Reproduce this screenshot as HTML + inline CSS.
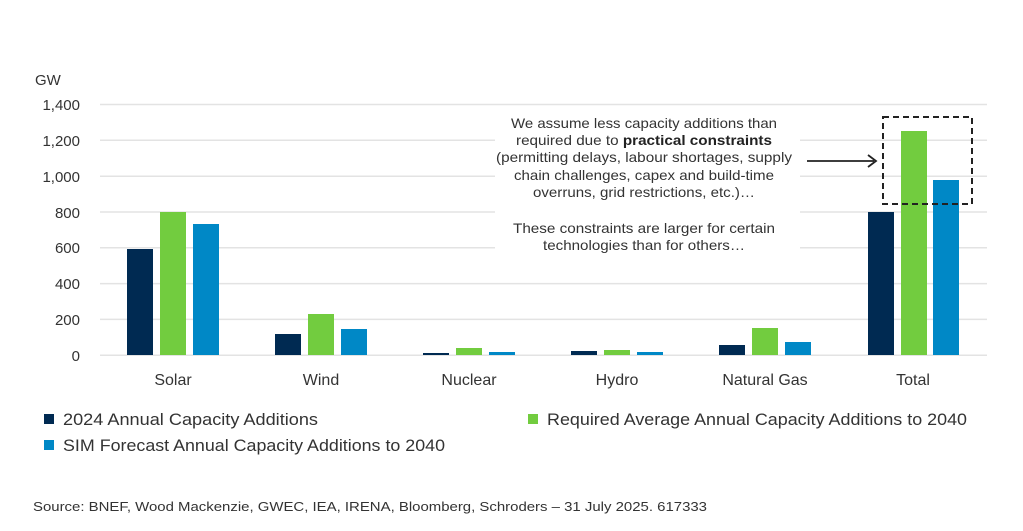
<!DOCTYPE html>
<html><head><style>
body{margin:0;width:1023px;height:531px;background:#fff;font-family:"Liberation Sans",sans-serif;color:#333;position:relative;overflow:hidden}
</style></head><body>
<svg width="1023" height="531" style="position:absolute;left:0;top:0" font-family="Liberation Sans, sans-serif">
<g stroke="#e3e3e3" stroke-width="1.5">
<line x1="100" x2="987" y1="104.5" y2="104.5"/><line x1="100" x2="987" y1="140.3" y2="140.3"/><line x1="100" x2="987" y1="176.2" y2="176.2"/><line x1="100" x2="987" y1="212" y2="212"/><line x1="100" x2="987" y1="247.8" y2="247.8"/><line x1="100" x2="987" y1="283.6" y2="283.6"/><line x1="100" x2="987" y1="319.4" y2="319.4"/><line x1="100" x2="987" y1="355.3" y2="355.3"/>
</g>
<g font-size="15" fill="#333" text-anchor="end">
<text x="80" y="110">1,400</text><text x="80" y="146">1,200</text><text x="80" y="182">1,000</text><text x="80" y="218">800</text><text x="80" y="253">600</text><text x="80" y="289">400</text><text x="80" y="325">200</text><text x="80" y="361">0</text>
</g>
<text x="35" y="85" font-size="15" fill="#333">GW</text>
<rect x="495" y="108" width="305" height="172" fill="#fff"/>
<g fill="#002a52">
<rect x="127" y="249" width="26" height="106"/><rect x="275" y="334" width="26" height="21"/><rect x="423" y="353" width="26" height="2"/><rect x="571" y="351" width="26" height="4"/><rect x="719" y="345" width="26" height="10"/><rect x="868" y="212" width="26" height="143"/>
</g>
<g fill="#72cc3f">
<rect x="160" y="212" width="26" height="143"/><rect x="308" y="314" width="26" height="41"/><rect x="456" y="348" width="26" height="7"/><rect x="604" y="350" width="26" height="5"/><rect x="752" y="328" width="26" height="27"/><rect x="901" y="131" width="26" height="224"/>
</g>
<g fill="#0088c6">
<rect x="193" y="224" width="26" height="131"/><rect x="341" y="329" width="26" height="26"/><rect x="489" y="352" width="26" height="3"/><rect x="637" y="352" width="26" height="3"/><rect x="785" y="342" width="26" height="13"/><rect x="933" y="180" width="26" height="175"/>
</g>
<g font-size="16" fill="#333" text-anchor="middle">
<text x="173" y="385">Solar</text><text x="321" y="385">Wind</text><text x="469" y="385">Nuclear</text><text x="617" y="385">Hydro</text><text x="765" y="385">Natural Gas</text><text x="913" y="385">Total</text>
</g>
<rect x="883" y="117" width="89" height="87" fill="none" stroke="#222" stroke-width="2" stroke-dasharray="6,4"/>
<line x1="807" y1="161" x2="874" y2="161" stroke="#222" stroke-width="1.8"/>
<path d="M868 155 L876 161 L868 167" fill="none" stroke="#222" stroke-width="1.8"/>
<g font-size="14" fill="#333">
<text x="511" y="128" textLength="266" lengthAdjust="spacingAndGlyphs">We assume less capacity additions than</text>
<text x="516" y="145" textLength="256" lengthAdjust="spacingAndGlyphs">required due to <tspan font-weight="bold" fill="#222">practical constraints</tspan></text>
<text x="496" y="162" textLength="296" lengthAdjust="spacingAndGlyphs">(permitting delays, labour shortages, supply</text>
<text x="514" y="180" textLength="260" lengthAdjust="spacingAndGlyphs">chain challenges, capex and build-time</text>
<text x="533" y="197" textLength="222" lengthAdjust="spacingAndGlyphs">overruns, grid restrictions, etc.)…</text>
<text x="513" y="233" textLength="262" lengthAdjust="spacingAndGlyphs">These constraints are larger for certain</text>
<text x="543" y="250" textLength="202" lengthAdjust="spacingAndGlyphs">technologies than for others…</text>
</g>
<rect x="44" y="414" width="10" height="10" fill="#002a52"/>
<rect x="528" y="414" width="10" height="10" fill="#72cc3f"/>
<rect x="44" y="440" width="10" height="10" fill="#0088c6"/>
<g font-size="17" fill="#333">
<text x="63" y="425" textLength="255" lengthAdjust="spacingAndGlyphs">2024 Annual Capacity Additions</text>
<text x="547" y="425" textLength="420" lengthAdjust="spacingAndGlyphs">Required Average Annual Capacity Additions to 2040</text>
<text x="63" y="451" textLength="382" lengthAdjust="spacingAndGlyphs">SIM Forecast Annual Capacity Additions to 2040</text>
</g>
<text x="33" y="511" font-size="13" fill="#333" textLength="674" lengthAdjust="spacingAndGlyphs">Source: BNEF, Wood Mackenzie, GWEC, IEA, IRENA, Bloomberg, Schroders – 31 July 2025. 617333</text>
</svg>
</body></html>
